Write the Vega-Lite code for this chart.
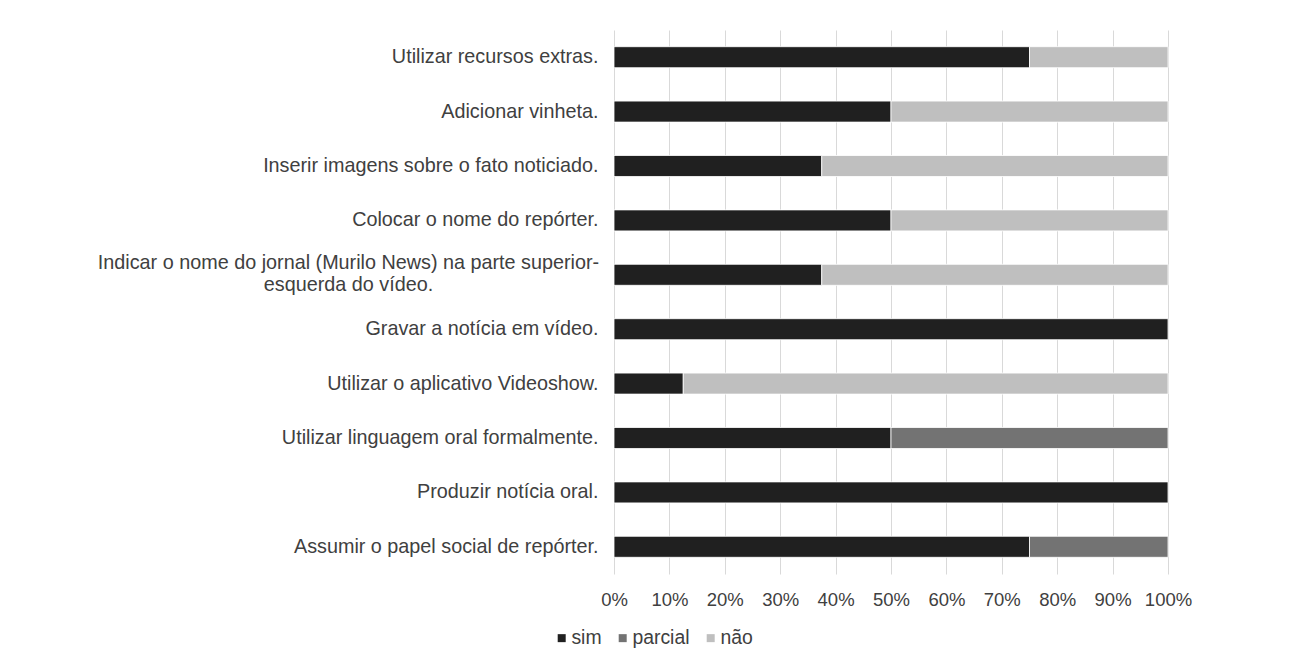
{
  "$schema": "https://vega.github.io/schema/vega-lite/v6.json",
  "autosize": {"type": "none"},
  "width": 554,
  "height": 544,
  "padding": {"left": 614, "top": 30, "right": 129, "bottom": 92},
  "background": "#ffffff",
  "config": {
    "view": {"stroke": null},
    "font": "Liberation Sans"
  },
  "data": {
    "values": [
      {"item": "Utilizar recursos extras.", "resposta": "sim", "n": 6},
      {"item": "Utilizar recursos extras.", "resposta": "não", "n": 2},
      {"item": "Adicionar vinheta.", "resposta": "sim", "n": 4},
      {"item": "Adicionar vinheta.", "resposta": "não", "n": 4},
      {"item": "Inserir imagens sobre o fato noticiado.", "resposta": "sim", "n": 3},
      {"item": "Inserir imagens sobre o fato noticiado.", "resposta": "não", "n": 5},
      {"item": "Colocar o nome do repórter.", "resposta": "sim", "n": 4},
      {"item": "Colocar o nome do repórter.", "resposta": "não", "n": 4},
      {"item": "Indicar o nome do jornal (Murilo News) na parte superior-esquerda do vídeo.", "resposta": "sim", "n": 3},
      {"item": "Indicar o nome do jornal (Murilo News) na parte superior-esquerda do vídeo.", "resposta": "não", "n": 5},
      {"item": "Gravar a notícia em vídeo.", "resposta": "sim", "n": 8},
      {"item": "Utilizar o aplicativo Videoshow.", "resposta": "sim", "n": 1},
      {"item": "Utilizar o aplicativo Videoshow.", "resposta": "não", "n": 7},
      {"item": "Utilizar linguagem oral formalmente.", "resposta": "sim", "n": 4},
      {"item": "Utilizar linguagem oral formalmente.", "resposta": "parcial", "n": 4},
      {"item": "Produzir notícia oral.", "resposta": "sim", "n": 8},
      {"item": "Assumir o papel social de repórter.", "resposta": "sim", "n": 6},
      {"item": "Assumir o papel social de repórter.", "resposta": "parcial", "n": 2}
    ]
  },
  "mark": {"type": "bar", "stroke": "#ffffff", "strokeWidth": 0.8},
  "encoding": {
    "y": {
      "field": "item",
      "type": "nominal",
      "sort": null,
      "title": null,
      "scale": {"paddingInner": 0.614, "paddingOuter": 0.307},
      "axis": {
        "domain": false,
        "ticks": false,
        "labelFont": "Liberation Sans",
        "labelFontSize": 19.8,
        "labelColor": "#404040",
        "labelLimit": 0,
        "labelLineHeight": 22,
        "labelPadding": {"condition": {"test": "indexof(datum.value, 'Indicar') == 0", "value": 266}, "value": 16},
        "labelAlign": {"condition": {"test": "indexof(datum.value, 'Indicar') == 0", "value": "center"}, "value": "right"},
        "labelOffset": {"condition": {"test": "indexof(datum.value, 'Indicar') == 0", "value": -12}, "value": 0},
        "labelExpr": "indexof(datum.value, 'Indicar') == 0 ? ['Indicar o nome do jornal (Murilo News) na parte superior-', 'esquerda do vídeo.'] : datum.value"
      }
    },
    "x": {
      "field": "n",
      "type": "quantitative",
      "stack": "normalize",
      "title": null,
      "scale": {"domain": [0, 1]},
      "axis": {
        "values": [0, 0.1, 0.2, 0.3, 0.4, 0.5, 0.6, 0.7, 0.8, 0.9, 1],
        "format": ".0%",
        "domain": false,
        "ticks": false,
        "grid": true,
        "gridColor": "#d9d9d9",
        "gridWidth": 1,
        "labelFont": "Liberation Sans",
        "labelFontSize": 18.5,
        "labelColor": "#404040",
        "labelPadding": 16,
        "labelFlush": false
      }
    },
    "color": {
      "field": "resposta",
      "type": "nominal",
      "scale": {"domain": ["sim", "parcial", "não"], "range": ["#202020", "#737373", "#bfbfbf"]},
      "legend": {
        "title": null,
        "orient": "none",
        "direction": "horizontal",
        "legendX": -62,
        "legendY": 598,
        "symbolType": "square",
        "symbolSize": 64,
        "symbolStrokeWidth": 0,
        "labelFont": "Liberation Sans",
        "labelFontSize": 19.4,
        "labelColor": "#404040",
        "labelOffset": 0,
        "columnPadding": 11
      }
    },
    "order": {"field": "resposta", "sort": "descending"}
  }
}
